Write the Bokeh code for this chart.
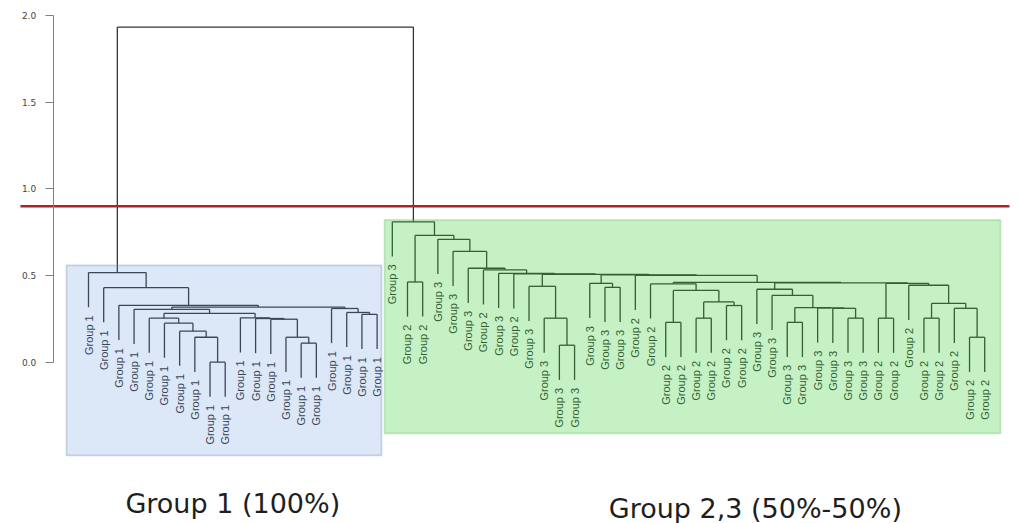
from bokeh.plotting import figure
from bokeh.models import (Range1d, LinearAxis, FixedTicker, BoxAnnotation,
                          ColumnDataSource, CustomJSTickFormatter)
from bokeh.core.properties import value
from bokeh.embed import file_html
from bokeh.resources import INLINE

# ---------------------------------------------------------------------------
# Data: leaf groups (in leaf id order) and the agglomerative merge table.
# Leaves are 0..59, merge k creates node 60 + k.
# ---------------------------------------------------------------------------
leaf_groups = [1] * 20 + [
    3, 2, 2, 3, 3, 3, 2, 3, 2, 3,
    3, 3, 3, 3, 3, 3, 2, 2, 2, 2,
    2, 2, 2, 2, 3, 3, 3, 3, 3, 3,
    3, 3, 2, 2, 2, 2, 2, 2, 2, 2,
]

merge_left = [8, 7, 6, 5, 4, 14, 13, 12, 11, 10,
              64, 3, 18, 17, 16, 71, 2, 1, 0, 21,
              31, 30, 29, 34, 33, 38, 40, 42, 86, 85,
              37, 46, 50, 49, 48, 91, 45, 44, 52, 58,
              57, 55, 101, 54, 98, 97, 90, 36, 84, 82,
              28, 27, 26, 25, 24, 23, 79, 20, 78]
merge_right = [9, 60, 61, 62, 63, 15, 65, 66, 67, 68,
               69, 70, 19, 72, 73, 74, 75, 76, 77, 22,
               32, 80, 81, 35, 83, 39, 41, 43, 87, 88,
               89, 47, 51, 92, 93, 94, 95, 96, 53, 59,
               99, 56, 100, 102, 103, 104, 105, 106, 107, 108,
               109, 110, 111, 112, 113, 114, 115, 116, 117]
merge_height = [0.000, 0.144, 0.179, 0.225, 0.254, 0.110, 0.144, 0.248, 0.252, 0.256,
                0.282, 0.305, 0.276, 0.287, 0.310, 0.318, 0.328, 0.430, 0.517, 0.463,
                0.098, 0.254, 0.438, 0.432, 0.455, 0.230, 0.254, 0.327, 0.348, 0.414,
                0.452, 0.230, 0.254, 0.311, 0.313, 0.315, 0.386, 0.421, 0.254, 0.144,
                0.311, 0.254, 0.340, 0.444, 0.455, 0.458, 0.461, 0.501, 0.504, 0.507,
                0.510, 0.513, 0.533, 0.542, 0.640, 0.709, 0.732, 0.810, 1.934]

cut_height = 0.9
y_ticks = [0.0, 0.5, 1.0, 1.5, 2.0]

# ---------------------------------------------------------------------------
# Tree geometry
# ---------------------------------------------------------------------------
HANG = 0.2
n_leaves = len(leaf_groups)
children = {n_leaves + k: (merge_left[k], merge_right[k]) for k in range(len(merge_left))}
node_h = {n_leaves + k: merge_height[k] for k in range(len(merge_height))}
root = n_leaves + len(merge_left) - 1
parent = {}
for node, (a, b) in children.items():
    parent[a] = node
    parent[b] = node

order = []


def walk(node):
    if node < n_leaves:
        order.append(node)
    else:
        walk(children[node][0])
        walk(children[node][1])


walk(root)
leaf_x = {leaf: i for i, leaf in enumerate(order)}
node_x = dict(leaf_x)


def centre(node):
    if node not in node_x:
        a, b = children[node]
        node_x[node] = (centre(a) + centre(b)) / 2.0
    return node_x[node]


centre(root)


def top_of(node):
    if node < n_leaves:
        return node_h[parent[node]] - HANG
    return node_h[node]


seg = dict(x0=[], y0=[], x1=[], y1=[])
for node, (a, b) in children.items():
    h = node_h[node]
    for c in (a, b):
        seg["x0"].append(node_x[c]); seg["y0"].append(top_of(c))
        seg["x1"].append(node_x[c]); seg["y1"].append(h)
    seg["x0"].append(node_x[a]); seg["y0"].append(h)
    seg["x1"].append(node_x[b]); seg["y1"].append(h)

labels = ColumnDataSource(dict(
    x=[leaf_x[l] for l in range(n_leaves)],
    y=[top_of(l) for l in range(n_leaves)],
    text=["Group %d" % g for g in leaf_groups],
))


def leaves_of(node):
    if node < n_leaves:
        return [node]
    a, b = children[node]
    return leaves_of(a) + leaves_of(b)


# clusters formed by cutting the tree at cut_height
clusters = [c for c, p in parent.items() if top_of(c) < cut_height <= node_h[p]]
clusters.sort(key=lambda c: node_x[c])

# ---------------------------------------------------------------------------
# Figure
# ---------------------------------------------------------------------------
PX0, PX_STEP = 88.0, 15.19          # leaf 0 position and leaf spacing in pixels
W, H = 1020, 523
Y0_PX, Y_UNIT = 361.7, 173.3        # pixel row of height 0 and pixels per unit

p = figure(width=W, height=H, output_backend="svg", toolbar_location=None,
           x_range=Range1d(-PX0 / PX_STEP, (W - PX0) / PX_STEP),
           y_range=Range1d((Y0_PX - H) / Y_UNIT, Y0_PX / Y_UNIT),
           x_axis_location=None, y_axis_location=None,
           min_border=0, min_border_left=0, min_border_right=0,
           min_border_top=0, min_border_bottom=0)
p.outline_line_color = None
p.background_fill_color = "white"
p.border_fill_color = "white"
for g in p.grid:
    g.visible = False

p.segment(x0="x0", y0="y0", x1="x1", y1="y1", source=ColumnDataSource(seg),
          line_color="#363636", line_width=1.3)

p.text(x="x", y="y", text="text", source=labels, angle=1.5707963,
       text_align="right", text_baseline="middle", y_offset=8,
       text_font=value("Liberation Sans"), text_font_size="11px",
       text_color="#333333")

# height axis
axis = LinearAxis(fixed_location=(52.7 - PX0) / PX_STEP, bounds=(0, 2),
                  ticker=FixedTicker(ticks=y_ticks),
                  formatter=CustomJSTickFormatter(code="return tick.toFixed(1)"))
axis.axis_line_color = "#808080"
axis.major_tick_line_color = "#808080"
axis.major_tick_out = 8
axis.major_tick_in = 0
axis.minor_tick_out = 0
axis.minor_tick_in = 0
axis.major_label_standoff = 9
axis.major_label_text_font = "DejaVu Sans"
axis.major_label_text_font_size = "9px"
axis.major_label_text_color = "#444444"
p.add_layout(axis, "left")

# cluster boxes and captions
box_style = [
    dict(fill="#4f86d6", alpha=0.20, line="#5f82ba", pad=(1.45, 0.29, 0.042, 0.055),
         dx=0.0, mid=-0.8165),
    dict(fill="#2ecc2e", alpha=0.28, line="#4fb84f", pad=(0.51, 1.04, 0.011, 0.026),
         dx=4.4, mid=-0.845),
]
cap = dict(x=[], y=[], text=[])
label_len = (8 + 41) / Y_UNIT
for c, st in zip(clusters, box_style):
    members = leaves_of(c)
    xs = [leaf_x[l] for l in members]
    low = min(top_of(l) for l in members) - label_len
    pl, pr, pt, pb = st["pad"]
    p.add_layout(BoxAnnotation(left=min(xs) - pl, right=max(xs) + pr,
                               top=node_h[c] + pt, bottom=low - pb,
                               fill_color=st["fill"], fill_alpha=st["alpha"],
                               line_color=st["line"], line_width=1.7))
    groups = sorted(set(leaf_groups[l] for l in members))
    shares = [round(100 * sum(leaf_groups[l] == g for l in members) / len(members))
              for g in groups]
    cap["x"].append(sum(xs) / len(xs) + st["dx"])
    cap["y"].append(st["mid"])
    cap["text"].append("Group %s (%s)" % (",".join(str(g) for g in groups),
                                          "-".join("%d%%" % s for s in shares)))

p.text(x="x", y="y", text="text", source=ColumnDataSource(cap),
       text_align="center", text_baseline="middle",
       text_font=value("DejaVu Sans"), text_font_size="27px", text_color="#1e1e1e")

# cut line
p.segment(x0=[min(leaf_x.values()) - 4.48], x1=[max(leaf_x.values()) + 1.63],
          y0=[cut_height], y1=[cut_height], line_color="#b22222", line_width=2.5)

open("out.html", "w").write(file_html(p, INLINE))
